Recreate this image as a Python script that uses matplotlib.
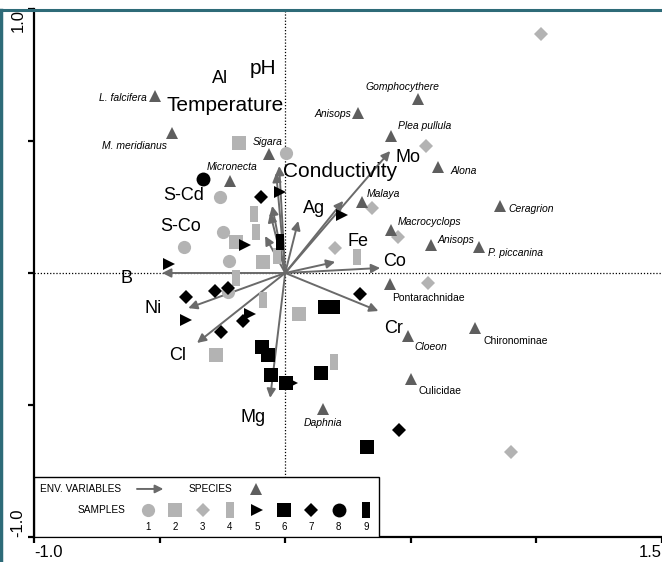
import matplotlib

matplotlib.use("Agg")
import matplotlib.pyplot as plt
from matplotlib.lines import Line2D

plt.rcParams["font.family"] = ["Liberation Sans", "DejaVu Sans"]

# environmental variables: arrow tips and where their labels sit
env_names = ["pH", "Temperature", "Al", "S-Cd", "S-Co", "Conductivity", "Mo", "Ag",
             "Fe", "Co", "B", "Ni", "Cl", "Mg", "Cr"]
env_x = [-0.024, -0.036, -0.052, -0.060, -0.080, 0.231, 0.418, 0.052,
         0.199, 0.378, -0.490, -0.386, -0.351, -0.060, 0.371]
env_y = [0.405, 0.379, 0.254, 0.227, 0.140, 0.273, 0.462, 0.197,
         0.042, 0.019, 0.000, -0.133, -0.265, -0.473, -0.144]
env_label_x = [-0.088, -0.239, -0.259, -0.406, -0.418, 0.219, 0.490, 0.116,
               0.291, 0.434, -0.633, -0.526, -0.430, -0.127, 0.430]
env_label_y = [0.773, 0.633, 0.735, 0.292, 0.178, 0.386, 0.436, 0.246,
               0.121, 0.045, -0.019, -0.133, -0.314, -0.549, -0.212]
env_big = ["pH", "Temperature", "Conductivity"]

# species scores
species_names = ["L. falcifera", "M. meridianus", "Sigara", "Micronecta", "Anisops",
                 "Gomphocythere", "Plea pullula", "Alona", "Malaya", "Ceragrion",
                 "Macrocyclops", "Anisops", "P. piccanina", "Pontarachnidae", "Cloeon",
                 "Chironominae", "Culicidae", "Daphnia"]
species_x = [-0.518, -0.450, -0.064, -0.219, 0.291, 0.530, 0.422, 0.610, 0.307, 0.857,
             0.422, 0.582, 0.773, 0.418, 0.490, 0.757, 0.502, 0.151]
species_y = [0.670, 0.530, 0.451, 0.348, 0.606, 0.659, 0.519, 0.402, 0.269, 0.254,
             0.163, 0.106, 0.098, -0.042, -0.239, -0.208, -0.402, -0.515]
species_upright = ["Pontarachnidae", "Chironominae", "Culicidae"]

# sample scores by sample group
samples_1 = [(0.004, 0.455), (-0.259, 0.288), (-0.402, 0.098), (-0.247, 0.155),
             (-0.223, 0.045), (-0.227, -0.072)]
samples_2 = [(-0.183, 0.492), (-0.195, 0.117), (-0.088, 0.042), (0.056, -0.155),
             (-0.275, -0.311)]
samples_3 = [(1.020, 0.905), (0.562, 0.481), (0.347, 0.246), (0.450, 0.136),
             (0.199, 0.095), (0.570, -0.038), (0.900, -0.678)]
samples_4 = [(-0.124, 0.223), (-0.116, 0.155), (-0.032, 0.064), (-0.195, -0.019),
             (-0.088, -0.102), (0.287, 0.061), (0.195, -0.337)]
samples_5 = [(-0.020, 0.307), (-0.159, 0.106), (-0.462, 0.034), (0.227, 0.220),
             (-0.394, -0.178), (-0.139, -0.155), (0.028, -0.417)]
samples_6 = [(0.159, -0.129), (0.191, -0.129), (-0.092, -0.280), (-0.068, -0.311),
             (-0.056, -0.386), (0.004, -0.417), (0.143, -0.379), (0.327, -0.659)]
samples_7 = [(-0.096, 0.288), (-0.394, -0.091), (-0.279, -0.068), (-0.227, -0.057),
             (-0.167, -0.182), (-0.255, -0.223), (0.299, -0.080), (0.454, -0.595)]
samples_8 = [(-0.327, 0.356)]
samples_9 = [(-0.020, 0.117)]

sample_groups = [samples_1, samples_2, samples_3, samples_4, samples_5,
                 samples_6, samples_7, samples_8, samples_9]

LIGHT = "#b3b3b3"
DARK = "#5e5e5e"
ARROW = "#6a6a6a"
TALL = [(-0.27, -0.5), (0.27, -0.5), (0.27, 0.5), (-0.27, 0.5)]
group_style = [
    dict(marker="o", color=LIGHT, ms=9.5),
    dict(marker="s", color=LIGHT, ms=10),
    dict(marker="D", color=LIGHT, ms=7),
    dict(marker=TALL, color=LIGHT, ms=11.5),
    dict(marker=">", color="black", ms=8.5),
    dict(marker="s", color="black", ms=10.5),
    dict(marker="D", color="black", ms=7),
    dict(marker="o", color="black", ms=10),
    dict(marker=TALL, color="black", ms=11.5),
]

# label offsets (pixels) and alignment for species names
species_offsets = {
    0: (-8, -2, "right"), 1: (-5, -13, "right"), 2: (-1, 12, "center"),
    3: (2, 14, "center"), 4: (-7, -1, "right"), 5: (-16, 12, "center"),
    6: (7, 10, "left"), 7: (12, -4, "left"), 8: (4, 8, "left"),
    9: (8, -3, "left"), 10: (6, 8, "left"), 11: (6, 5, "left"),
    12: (9, -6, "left"), 13: (2, -14, "left"), 14: (6, -11, "left"),
    15: (8, -13, "left"), 16: (7, -12, "left"), 17: (0, -14, "center"),
}

fig = plt.figure(figsize=(6.62, 5.62), dpi=100)
ax = fig.add_axes([34 / 662, 25 / 562, 628 / 662, 528 / 562])
ax.set_xlim(-1.0, 1.5)
ax.set_ylim(-1.0, 1.0)

ax.axhline(0, color="black", ls=(0, (1, 1.5)), lw=0.9, zorder=1)
ax.axvline(0, color="black", ls=(0, (1, 1.5)), lw=0.9, zorder=1)

for name, x, y in zip(env_names, env_x, env_y):
    ax.annotate("", xy=(x, y), xytext=(0, 0),
                arrowprops=dict(arrowstyle="-|>", color=ARROW, lw=1.4,
                                mutation_scale=13, shrinkA=0, shrinkB=0),
                zorder=2)
for name, lx, ly in zip(env_names, env_label_x, env_label_y):
    ax.text(lx, ly, name, fontsize=15 if name in env_big else 13,
            ha="center", va="center", zorder=5)

for group, style in zip(sample_groups, group_style):
    xs = [p[0] for p in group]
    ys = [p[1] for p in group]
    ax.plot(xs, ys, ls="none", marker=style["marker"], ms=style["ms"],
            color=style["color"], mec=style["color"], mew=0, zorder=3)

ax.plot(species_x, species_y, ls="none", marker="^", ms=8, color=DARK, mew=0, zorder=4)
for i, (name, x, y) in enumerate(zip(species_names, species_x, species_y)):
    dx, dy, ha = species_offsets[i]
    ax.annotate(name, xy=(x, y), xytext=(dx, dy), textcoords="offset pixels",
                ha=ha, va="center", fontsize=7.5,
                style="normal" if name in species_upright else "italic", zorder=5)

# legend box drawn in axes coordinates
box_w, box_h = 0.549, 0.114
ax.add_patch(plt.Rectangle((0, 0), box_w, box_h, transform=ax.transAxes,
                           facecolor="white", edgecolor="black", lw=1, zorder=6))
ax.text(0.0096, 0.091, "ENV. VARIABLES", transform=ax.transAxes, fontsize=7.3,
        ha="left", va="center", zorder=7)
ax.annotate("", xy=(0.206, 0.091), xytext=(0.164, 0.091), xycoords="axes fraction",
            arrowprops=dict(arrowstyle="-|>", color=ARROW, lw=1.4, mutation_scale=12,
                            shrinkA=0, shrinkB=0), zorder=7)
ax.text(0.246, 0.091, "SPECIES", transform=ax.transAxes, fontsize=7.3,
        ha="left", va="center", zorder=7)
ax.plot([0.354], [0.091], transform=ax.transAxes, marker="^", ms=8, color=DARK,
        mew=0, ls="none", zorder=7, clip_on=False)
ax.text(0.145, 0.051, "SAMPLES", transform=ax.transAxes, fontsize=7.3,
        ha="right", va="center", zorder=7)
for k, style in enumerate(group_style):
    lx = 0.182 + k * 0.0433
    ax.plot([lx], [0.051], transform=ax.transAxes, ls="none", marker=style["marker"],
            ms=style["ms"], color=style["color"], mew=0, zorder=7, clip_on=False)
    ax.text(lx, 0.019, str(k + 1), transform=ax.transAxes, fontsize=7,
            ha="center", va="center", zorder=7)

# axes styling
for side in ("top", "right"):
    ax.spines[side].set_visible(False)
for side in ("left", "bottom"):
    ax.spines[side].set_linewidth(1.6)
ax.set_xticks([-1.0, -0.5, 0.0, 0.5, 1.0, 1.5])
ax.set_xticklabels(["-1.0", "", "", "", "", "1.5"], fontsize=12)
ax.set_yticks([-1.0, -0.5, 0.0, 0.5, 1.0])
ax.set_yticklabels(["-1.0", "", "", "", "1.0"], fontsize=12, rotation=90)
ax.tick_params(direction="out", length=4, width=1.6, pad=2)
xl = ax.get_xticklabels()
xl[0].set_ha("left")
xl[-1].set_ha("right")
yl = ax.get_yticklabels()
yl[0].set_va("bottom")
yl[-1].set_va("top")

# teal frame around the figure
fig.add_artist(Line2D([0, 1], [1 - 10 / 562, 1 - 10 / 562], transform=fig.transFigure,
                      color="#2e6b78", lw=2.2))
fig.add_artist(Line2D([1 / 662, 1 / 662], [0, 1 - 10 / 562], transform=fig.transFigure,
                      color="#2e6b78", lw=2.5))

fig.savefig("out.png", dpi=100)
